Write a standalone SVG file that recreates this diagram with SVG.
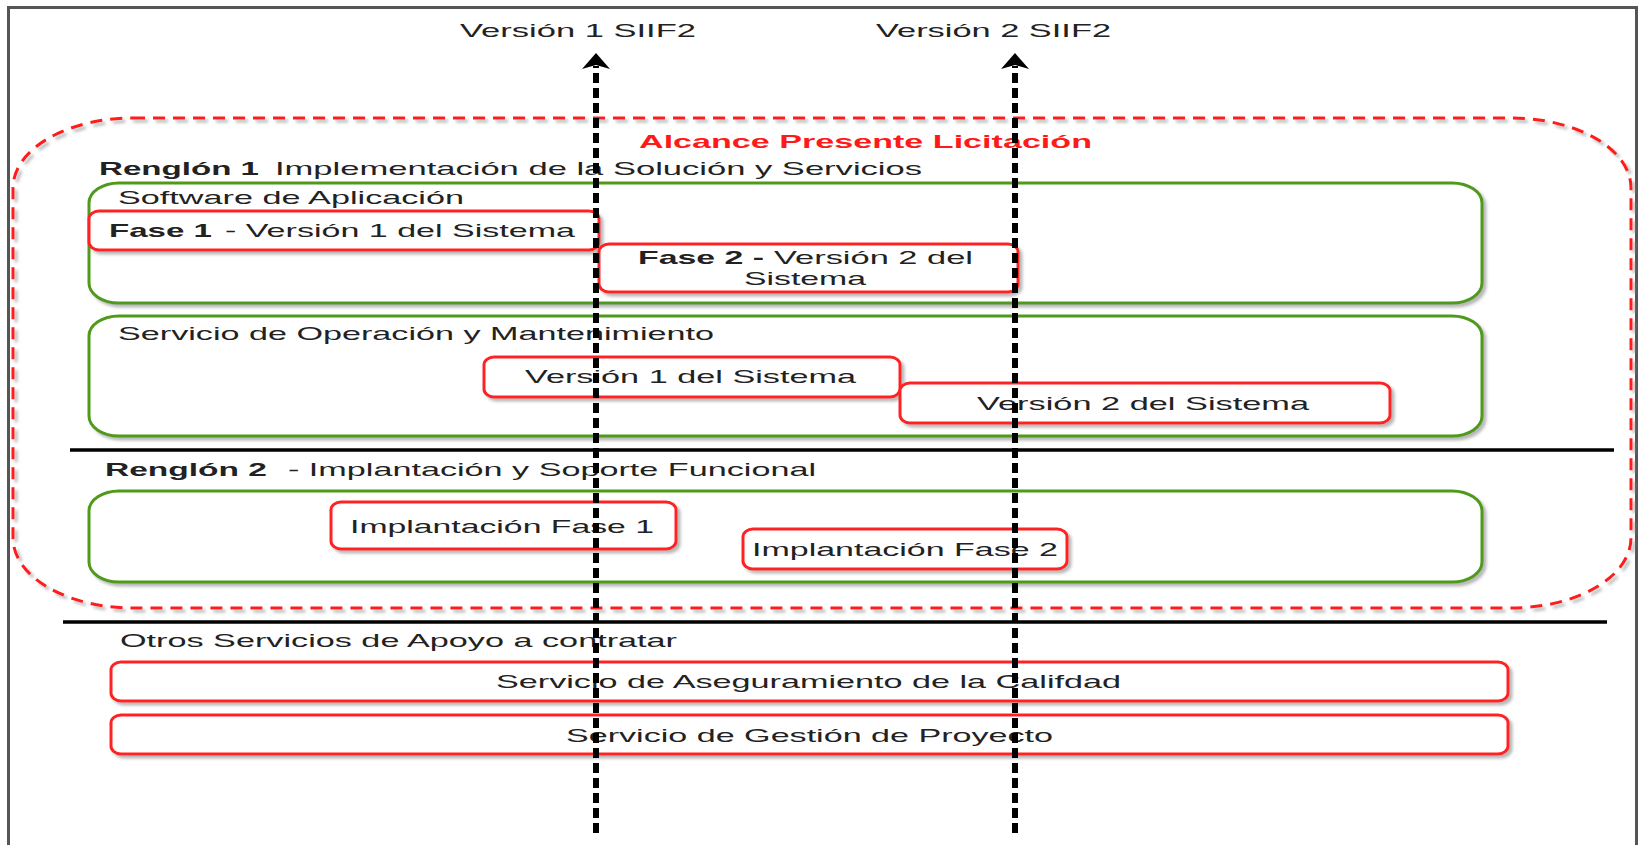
<svg xmlns="http://www.w3.org/2000/svg" width="1640" height="845" viewBox="0 0 1640 845">
<style>
.t{font-family:"Liberation Sans",Arial,sans-serif;font-size:19px;fill:#222}
.b{font-weight:bold}
.red{fill:#fff;stroke:#ff2424;stroke-width:3}
.grn{fill:#fff;stroke:#4f9a1a;stroke-width:3}
.sep{stroke:#000;stroke-width:3.5}
.arr{stroke:#000;stroke-width:6;stroke-dasharray:10 5;fill:none}
</style>
<defs>
<filter id="sh" x="-5%" y="-20%" width="110%" height="150%">
<feDropShadow dx="3" dy="3" stdDeviation="1.5" flood-color="#888" flood-opacity="0.6"/>
</filter>
<marker id="ah" viewBox="0 0 28 16" refX="14" refY="2" markerWidth="28" markerHeight="16" markerUnits="userSpaceOnUse" orient="auto-start-reverse">
</marker>
</defs>
<rect x="0" y="0" width="1640" height="845" fill="#fff"/>
<rect x="8.5" y="7.5" width="1628" height="860" fill="none" stroke="#555" stroke-width="3"/>

<g id="scope">
<rect x="13" y="118" width="1618" height="490" rx="120" ry="70" fill="none" stroke="#ff1a1a" stroke-width="3" stroke-dasharray="12 8" filter="url(#sh)"/>
<text class="t b" x="639" y="148" fill="#ff1a1a" style="fill:#ff1a1a" textLength="453" lengthAdjust="spacingAndGlyphs">Alcance Presente Licitación</text>
</g>

<g id="renglon1-title">
<text class="t b" x="99" y="175" textLength="160" lengthAdjust="spacingAndGlyphs">Renglón 1</text>
<text class="t" x="275" y="175" textLength="647" lengthAdjust="spacingAndGlyphs">Implementación de la Solución  y Servicios</text>
</g>

<g id="software">
<rect class="grn" x="89" y="183" width="1393" height="120" rx="30" ry="20" filter="url(#sh)"/>
<text class="t" x="118" y="204" textLength="346" lengthAdjust="spacingAndGlyphs">Software de Aplicación</text>
</g>

<g id="fase1">
<rect class="red" x="89" y="211" width="510" height="39" rx="10" ry="8" filter="url(#sh)"/>
<text class="t b" x="109" y="237" textLength="103" lengthAdjust="spacingAndGlyphs">Fase 1</text>
<text class="t" x="225" y="237" textLength="350" lengthAdjust="spacingAndGlyphs">- Versión 1 del Sistema</text>
</g>

<g id="fase2">
<rect class="red" x="599" y="244" width="419" height="48" rx="10" ry="8" filter="url(#sh)"/>
<text class="t b" x="638" y="264" textLength="126" lengthAdjust="spacingAndGlyphs">Fase 2 -</text>
<text class="t" x="774" y="264" textLength="199" lengthAdjust="spacingAndGlyphs">Versión 2 del</text>
<text class="t" x="744" y="285" textLength="122" lengthAdjust="spacingAndGlyphs">Sistema</text>
</g>

<g id="operacion">
<rect class="grn" x="89" y="316" width="1393" height="120" rx="30" ry="20" filter="url(#sh)"/>
<text class="t" x="118" y="340" textLength="596" lengthAdjust="spacingAndGlyphs">Servicio de Operación y Mantenimiento</text>
</g>

<g id="op-v1">
<rect class="red" x="484" y="357" width="416" height="40" rx="10" ry="8" filter="url(#sh)"/>
<text class="t" x="525" y="383" textLength="331" lengthAdjust="spacingAndGlyphs">Versión 1 del Sistema</text>
</g>

<g id="op-v2">
<rect class="red" x="900" y="383" width="490" height="40" rx="10" ry="8" filter="url(#sh)"/>
<text class="t" x="977" y="410" textLength="332" lengthAdjust="spacingAndGlyphs">Versión 2 del Sistema</text>
</g>

<line class="sep" x1="70" y1="450" x2="1614" y2="450"/>

<g id="renglon2-title">
<text class="t b" x="105" y="476" textLength="162" lengthAdjust="spacingAndGlyphs">Renglón 2</text>
<text class="t" x="288" y="476" textLength="528" lengthAdjust="spacingAndGlyphs">- Implantación y Soporte Funcional</text>
</g>

<g id="implantacion">
<rect class="grn" x="89" y="491" width="1393" height="91" rx="30" ry="20" filter="url(#sh)"/>
</g>

<g id="impl-f1">
<rect class="red" x="331" y="502" width="345" height="47" rx="10" ry="8" filter="url(#sh)"/>
<text class="t" x="350" y="533" textLength="304" lengthAdjust="spacingAndGlyphs">Implantación Fase 1</text>
</g>

<g id="impl-f2">
<rect class="red" x="743" y="529" width="324" height="40" rx="10" ry="8" filter="url(#sh)"/>
<text class="t" x="752" y="556" textLength="306" lengthAdjust="spacingAndGlyphs">Implantación Fase 2</text>
</g>

<line class="sep" x1="63" y1="622" x2="1607" y2="622"/>

<g id="otros-title">
<text class="t" x="120" y="647" textLength="557" lengthAdjust="spacingAndGlyphs">Otros Servicios de Apoyo a contratar</text>
</g>

<g id="calidad">
<rect class="red" x="111" y="662" width="1397" height="39" rx="10" ry="8" filter="url(#sh)"/>
<text class="t" x="496" y="688" textLength="625" lengthAdjust="spacingAndGlyphs">Servicio de Aseguramiento de la Califdad</text>
</g>

<g id="gestion">
<rect class="red" x="111" y="715" width="1397" height="39" rx="10" ry="8" filter="url(#sh)"/>
<text class="t" x="566" y="742" textLength="487" lengthAdjust="spacingAndGlyphs">Servicio de Gestión de Proyecto</text>
</g>

<g id="v1-label">
<text class="t" x="460" y="37" textLength="236" lengthAdjust="spacingAndGlyphs">Versión 1 SIIF2</text>
</g>
<g id="v2-label">
<text class="t" x="876" y="37" textLength="235" lengthAdjust="spacingAndGlyphs">Versión 2 SIIF2</text>
</g>

<g id="connectors">
<line class="arr" x1="596" y1="833" x2="596" y2="66"/>
<path d="M596 53 L610 69 L596 65 L582 69 Z" fill="#000"/>
<line class="arr" x1="1015" y1="833" x2="1015" y2="66"/>
<path d="M1015 53 L1029 69 L1015 65 L1001 69 Z" fill="#000"/>
</g>
</svg>
